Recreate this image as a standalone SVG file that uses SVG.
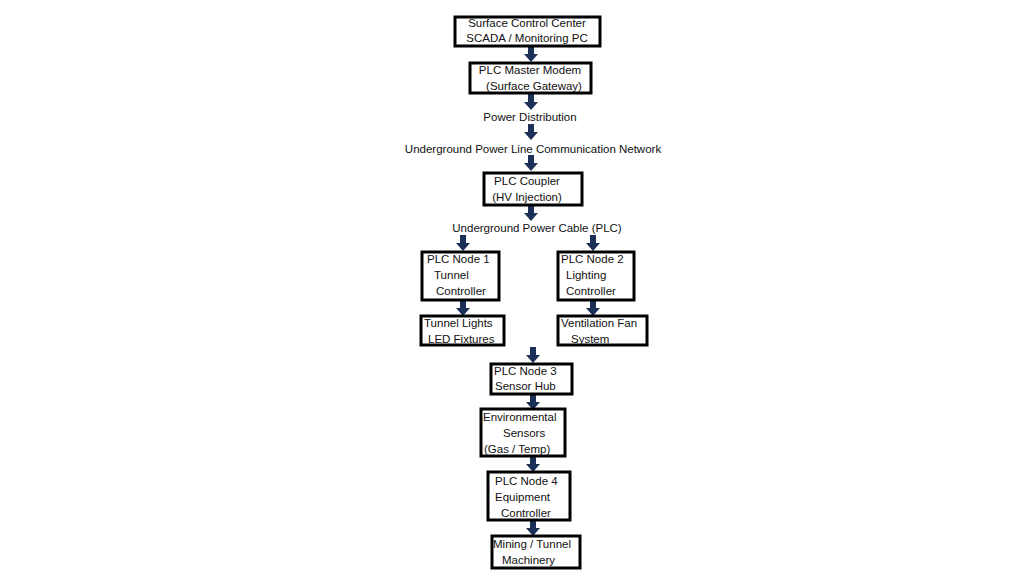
<svg xmlns="http://www.w3.org/2000/svg" width="1024" height="576" viewBox="0 0 1024 576">
<defs>
<style>
rect.b{fill:#fff;stroke:#000;stroke-width:3}
text{font-family:"Liberation Sans",Arial,sans-serif;font-size:11.5px;fill:#111}
.a{fill:#1b2f57}
</style>
<path id="ar" class="a" d="M-3,0 H3 V8 H7 L0,16 L-7,8 H-3 Z"/>
</defs>
<rect width="1024" height="576" fill="#fff"/>
<g id="connectors">
<use href="#ar" x="531" y="46"/>
<use href="#ar" x="531" y="94"/>
<use href="#ar" x="531" y="124"/>
<use href="#ar" x="531" y="155"/>
<use href="#ar" x="531" y="205"/>
<use href="#ar" x="463" y="235"/>
<use href="#ar" x="593" y="235"/>
<use href="#ar" x="463" y="300"/>
<use href="#ar" x="593" y="300"/>
<use href="#ar" x="533" y="347"/>
<use href="#ar" x="533" y="394"/>
<use href="#ar" x="533" y="456"/>
<use href="#ar" x="533" y="520"/>
</g>
<g id="n1"><rect class="b" x="455" y="17" width="145" height="29"/><text x="527" y="27" text-anchor="middle">Surface Control Center</text><text x="527" y="42" text-anchor="middle">SCADA / Monitoring PC</text></g>
<g id="n2"><rect class="b" x="470" y="63" width="121" height="30"/><text x="530" y="74" text-anchor="middle">PLC Master Modem</text><text x="534" y="90" text-anchor="middle">(Surface Gateway)</text></g>
<g id="t1"><text x="530" y="121" text-anchor="middle">Power Distribution</text></g>
<g id="t2"><text x="533" y="153" text-anchor="middle">Underground Power Line Communication Network</text></g>
<g id="n3"><rect class="b" x="484" y="173" width="98" height="32"/><text x="527" y="185" text-anchor="middle">PLC Coupler</text><text x="527" y="201" text-anchor="middle">(HV Injection)</text></g>
<g id="t3"><text x="537" y="232" text-anchor="middle">Underground Power Cable (PLC)</text></g>
<g id="n4"><rect class="b" x="422" y="252" width="77" height="48"/><text x="427" y="263">PLC Node 1</text><text x="434" y="279">Tunnel</text><text x="436" y="295">Controller</text></g>
<g id="n5"><rect class="b" x="558" y="252" width="76" height="48"/><text x="561" y="263">PLC Node 2</text><text x="566" y="279">Lighting</text><text x="566" y="295">Controller</text></g>
<g id="n6"><rect class="b" x="421" y="316" width="83" height="29"/><text x="424" y="327">Tunnel Lights</text><text x="428" y="343">LED Fixtures</text></g>
<g id="n7"><rect class="b" x="558" y="316" width="89" height="29"/><text x="561" y="327">Ventilation Fan</text><text x="571" y="343">System</text></g>
<g id="n8"><rect class="b" x="491" y="364" width="81" height="30"/><text x="494" y="375">PLC Node 3</text><text x="495" y="390">Sensor Hub</text></g>
<g id="n9"><rect class="b" x="481" y="409" width="84" height="47"/><text x="483" y="421">Environmental</text><text x="503" y="437">Sensors</text><text x="484" y="453">(Gas / Temp)</text></g>
<g id="n10"><rect class="b" x="488" y="472" width="82" height="48"/><text x="495" y="485">PLC Node 4</text><text x="495" y="501">Equipment</text><text x="501" y="517">Controller</text></g>
<g id="n11"><rect class="b" x="492" y="536" width="88" height="32"/><text x="493" y="548">Mining / Tunnel</text><text x="502" y="564">Machinery</text></g>
</svg>
